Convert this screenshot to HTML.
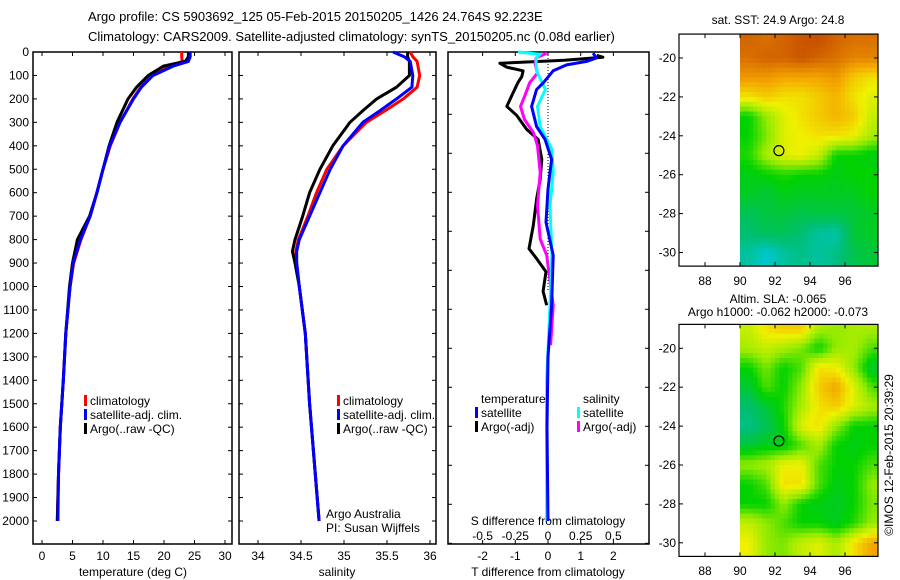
<!DOCTYPE html>
<html><head><meta charset="utf-8"><style>
html,body{margin:0;padding:0;background:#fff}
svg{display:block;font-family:"Liberation Sans",sans-serif}
text{font-size:12px;fill:#000}
</style></head><body>
<svg id="fig" width="900" height="580" viewBox="0 0 900 580" xmlns="http://www.w3.org/2000/svg">
<rect width="900" height="580" fill="#fff"/>
<text x="88" y="21" style="font-size:13px">Argo profile: CS 5903692_125 05-Feb-2015 20150205_1426 24.764S 92.223E</text>
<text x="88" y="41" style="font-size:13px">Climatology: CARS2009. Satellite-adjusted climatology: synTS_20150205.nc (0.08d earlier)</text>
<text x="778" y="24" text-anchor="middle">sat. SST: 24.9 Argo: 24.8</text>
<text x="778" y="303" text-anchor="middle">Altim. SLA: -0.065</text>
<text x="778" y="316" text-anchor="middle">Argo h1000: -0.062 h2000: -0.073</text>
<text transform="translate(893,455) rotate(-90)" text-anchor="middle">©IMOS 12-Feb-2015 20:39:29</text>
<text x="326" y="518">Argo Australia</text>
<text x="326" y="532">PI: Susan Wijffels</text>
<text x="133" y="576" text-anchor="middle">temperature (deg C)</text>
<text x="337" y="576" text-anchor="middle">salinity</text>
<text x="548" y="576" text-anchor="middle">T difference from climatology</text>
<text x="548" y="525" text-anchor="middle">S difference from climatology</text>
</svg>
<script>
// ---- data ----
const depthTicks = [0,100,200,300,400,500,600,700,800,900,1000,1100,1200,1300,1400,1500,1600,1700,1800,1900,2000];
const tempTicks = [0,5,10,15,20,25,30];
const salTicks = [34,34.5,35,35.5,36];
const tdiffTicks = [-2,-1,0,1,2];
const sdiffTickLabels = ["-0.5","-0.25","0","0.25","0.5"];
const sdiffTicks = [-0.5,-0.25,0,0.25,0.5];
const lonTicks = [88,90,92,94,96];
const latTicks = [-20,-22,-24,-26,-28,-30];

const depthT = [0,20,40,60,100,150,200,300,400,500,600,700,800,900,1000,1200,1400,1600,1800,2000];
const tClim = [22.9,22.9,23.0,21,18,16.2,14.9,12.8,11.2,10.0,9.0,7.9,6.4,5.2,4.6,3.9,3.5,3.0,2.7,2.5];
const tSat  = [24.3,24.3,24.0,21.5,18.2,16.3,15.0,12.8,11.1,10.0,9.0,7.9,6.3,5.1,4.6,3.9,3.5,3.0,2.7,2.6];
const tArgo = [24.0,24.0,23.5,19.9,17.4,15.5,14.1,12.3,11.0,10.0,9.0,7.8,5.8,5.0,4.5,3.9,3.5,3.0,2.7,2.5];

const depthS = [0,20,40,100,150,200,250,300,400,500,600,700,800,850,900,1000,1200,1500,2000];
const sClim = [35.77,35.80,35.85,35.88,35.85,35.69,35.48,35.26,34.99,34.80,34.68,34.58,34.47,34.44,34.45,34.48,34.55,34.60,34.71];
const sSat  = [35.57,35.70,35.77,35.80,35.79,35.61,35.42,35.22,34.99,34.84,34.72,34.60,34.48,34.45,34.45,34.48,34.55,34.60,34.71];
const sArgo = [35.74,35.74,35.76,35.76,35.61,35.38,35.22,35.07,34.87,34.72,34.60,34.52,34.43,34.40,34.43,34.48,34.55,34.60,34.71];

const dTsatDepth = [5,25,40,55,80,131,160,232,318,373,458,585,726,867,1080,1300,1600,2000];
const dTsat = [1.38,1.48,1.18,0.57,0.16,-0.14,-0.35,-0.5,-0.35,-0.09,0.11,0,-0.06,0.16,0.11,0,-0.03,0];
const dTargoDepth = [15,22,35,48,65,80,105,131,175,232,270,330,373,458,542,627,740,839,881,937,1021,1080];
const dTargo = [1.49,1.68,0.5,-1.47,-1.26,-0.76,-0.8,-0.92,-1.07,-1.26,-0.96,-0.65,-0.3,-0.19,-0.24,-0.35,-0.45,-0.58,-0.35,-0.06,-0.15,-0.04];
const dSsatDepth = [0,10,25,60,90,160,232,318,415,514,656,867,1080,1400,2000];
const dSsat = [-0.23,-0.06,-0.09,-0.09,-0.08,-0.02,-0.08,-0.06,0.03,0.04,0.015,0.03,0.015,-0.01,-0.01];
const dSargoDepth = [5,25,48,90,131,190,232,288,345,400,514,656,797,867,1080,1250];
const dSargo = [-0.01,-0.09,-0.1,-0.08,-0.14,-0.18,-0.21,-0.18,-0.11,-0.08,-0.06,-0.08,-0.06,-0.01,0.04,0.02];

const mapLats = [-19,-20,-21,-22,-23,-24,-25,-26,-27,-28,-29,-30];
const mapLons = [90,91,92,93,94,95,96,97];
const sstGrid = [
[0.9,0.88,0.9,0.92,0.93,0.9,0.88,0.88],
[0.88,0.9,0.9,0.92,0.9,0.88,0.85,0.85],
[0.82,0.82,0.8,0.8,0.8,0.82,0.75,0.72],
[0.72,0.75,0.72,0.72,0.75,0.78,0.72,0.68],
[0.5,0.6,0.68,0.72,0.75,0.78,0.75,0.65],
[0.5,0.58,0.68,0.7,0.72,0.72,0.7,0.62],
[0.52,0.62,0.68,0.7,0.65,0.5,0.5,0.48],
[0.48,0.5,0.52,0.5,0.5,0.48,0.5,0.5],
[0.47,0.45,0.48,0.47,0.47,0.47,0.47,0.5],
[0.42,0.44,0.45,0.43,0.44,0.44,0.45,0.47],
[0.4,0.42,0.42,0.4,0.36,0.35,0.45,0.47],
[0.36,0.32,0.36,0.38,0.36,0.38,0.43,0.45]];
const slaGrid = [
[0.65,0.72,0.75,0.75,0.62,0.6,0.62,0.62],
[0.62,0.65,0.62,0.58,0.5,0.6,0.62,0.55],
[0.5,0.58,0.5,0.55,0.72,0.7,0.6,0.45],
[0.45,0.55,0.5,0.6,0.75,0.8,0.68,0.55],
[0.4,0.45,0.52,0.62,0.72,0.75,0.68,0.62],
[0.38,0.42,0.5,0.68,0.72,0.6,0.5,0.5],
[0.45,0.48,0.48,0.55,0.62,0.5,0.48,0.5],
[0.6,0.62,0.7,0.7,0.55,0.5,0.5,0.55],
[0.5,0.55,0.72,0.72,0.55,0.48,0.5,0.6],
[0.5,0.5,0.6,0.5,0.48,0.47,0.5,0.58],
[0.65,0.6,0.55,0.5,0.5,0.47,0.52,0.6],
[0.7,0.6,0.58,0.65,0.68,0.62,0.72,0.8]];
const argoLon = 92.223, argoLat = -24.764;

// ---- helpers ----
const NS = "http://www.w3.org/2000/svg";
const svg = document.getElementById('fig');
function el(tag, attrs, parent){ const e=document.createElementNS(NS,tag); for(const k in attrs) e.setAttribute(k,attrs[k]); (parent||svg).appendChild(e); return e; }
function txt(x,y,s,anchor,parent){ const t=el('text',{x:x,y:y,'text-anchor':anchor||'start'},parent); t.textContent=s; return t; }

const TOP=52, BOT=544;
const yD = d => 52 + d*0.2345;
const panels = [
 {name:'temperature', x0:33, x1:232, f:v=>42+v*6.1},
 {name:'salinity', x0:239, x1:436, f:v=>258+(v-34)*86},
 {name:'difference', x0:448, x1:649, f:v=>548+v*32.7}
];
const sx = v => 548 + v/0.25*32.7;

panels.forEach((p,i)=>{
  const g = el('g',{});
  
  
  const r = el('rect',{x:p.x0,y:TOP,width:p.x1-p.x0,height:BOT-TOP,fill:'none',stroke:'#000','stroke-width':1.5},g);
  
  
  if(i<2){
    depthTicks.forEach(d=>{
      el('line',{x1:p.x0,x2:p.x0+4,y1:yD(d),y2:yD(d),stroke:'#000'},g);
      el('line',{x1:p.x1,x2:p.x1-4,y1:yD(d),y2:yD(d),stroke:'#000'},g);
    });
  } else {
    for(let k=0;k<13;k++){ const yy=543.3-k*39; if(yy<TOP) break; el('line',{x1:p.x1,x2:p.x1-4,y1:yy,y2:yy,stroke:'#000'},g); el('line',{x1:p.x0,x2:p.x0+4,y1:yy,y2:yy,stroke:'#000'},g);}
  }
});
const dl = el('g',{});


depthTicks.forEach(d=>{ txt(29,yD(d)+4,String(d),'end',dl); });

function xTicks(p, ticks, labels, ly){
  const g = el('g',{});
  
  
  ticks.forEach((v,k)=>{
    const x=p.f(v);
    el('line',{x1:x,x2:x,y1:BOT,y2:BOT-4,stroke:'#000'},g);
    el('line',{x1:x,x2:x,y1:TOP,y2:TOP+4,stroke:'#000'},g);
    txt(x,ly,labels[k],'middle',g);
  });
}
xTicks(panels[0], tempTicks, tempTicks.map(String), 560);
xTicks(panels[1], salTicks, salTicks.map(String), 560);
xTicks(panels[2], tdiffTicks, tdiffTicks.map(String), 560);
const sdl = el('g',{});


sdiffTicks.forEach((v,k)=>{ txt(sx(v),540,sdiffTickLabels[k],'middle',sdl); });

const zl = el('line',{x1:548,x2:548,y1:TOP,y2:290,stroke:'#000','stroke-dasharray':'1 2'});



function series(depths, vals, fx, color, name){
  const pts = depths.map((d,k)=>fx(vals[k]).toFixed(1)+','+yD(d).toFixed(1)).join(' ');
  const pl = el('polyline',{points:pts,fill:'none',stroke:color,'stroke-width':3,'stroke-linejoin':'round'});
  
  
}
const fT=panels[0].f, fS=panels[1].f, fD=panels[2].f;
series(depthT,tClim,fT,'#ff0000','temperature-climatology-line');
series(depthT,tArgo,fT,'#000000','temperature-argo-line');
series(depthT,tSat,fT,'#0000ff','temperature-satellite-line');
series(depthS,sClim,fS,'#ff0000','salinity-climatology-line');
series(depthS,sArgo,fS,'#000000','salinity-argo-line');
series(depthS,sSat,fS,'#0000ff','salinity-satellite-line');
series(dTargoDepth,dTargo,fD,'#000000','t-diff-argo-line');
series(dSargoDepth,dSargo,sx,'#ff00ff','s-diff-argo-line');
series(dSsatDepth,dSsat,sx,'#00ffff','s-diff-satellite-line');
series(dTsatDepth,dTsat,fD,'#0000ff','t-diff-satellite-line');

function legend(x,y,items,name){
  const g = el('g',{});
  
  
  items.forEach((it,k)=>{
    const yy=y+k*14;
    if(it[1]) el('rect',{x:x,y:yy-10,width:3,height:11,fill:it[1]},g);
    txt(x+6,yy,it[0],'start',g);
  });
}
legend(84,405,[['climatology','#ff0000'],['satellite-adj. clim.','#0000ff'],['Argo(..raw -QC)','#000000']],'temperature-legend');
legend(337,405,[['climatology','#ff0000'],['satellite-adj. clim.','#0000ff'],['Argo(..raw -QC)','#000000']],'salinity-legend');
legend(475,403,[['temperature',null],['satellite','#0000ff'],['Argo(-adj)','#000000']],'t-diff-legend');
legend(577,403,[['salinity',null],['satellite','#00ffff'],['Argo(-adj)','#ff00ff']],'s-diff-legend');

const cstops=[[0.3,[0,200,230]],[0.4,[0,190,110]],[0.5,[0,210,0]],[0.6,[150,235,0]],[0.7,[240,240,0]],[0.8,[245,165,0]],[0.9,[210,100,0]],[1.0,[170,30,0]]];
function cmap(v){
  if(v<=cstops[0][0]) return 'rgb('+cstops[0][1]+')';
  for(let k=1;k<cstops.length;k++){
    if(v<=cstops[k][0]){const a=cstops[k-1],b=cstops[k],t=(v-a[0])/(b[0]-a[0]);
      return 'rgb('+a[1].map((c,j)=>Math.round(c+(b[1][j]-c)*t)).join(',')+')';}
  }
  return 'rgb('+cstops[cstops.length-1][1]+')';
}
function sample(grid, lat, lon){
  // bilinear between cell centres
  let r = (-lat) - 19, c = lon - 90.5;
  r = Math.max(0, Math.min(grid.length-1, r)); c = Math.max(0, Math.min(grid[0].length-1, c));
  const r0=Math.floor(r), c0=Math.floor(c), r1=Math.min(r0+1,grid.length-1), c1=Math.min(c0+1,grid[0].length-1);
  const fr=r-r0, fc=c-c0;
  return grid[r0][c0]*(1-fr)*(1-fc)+grid[r0][c1]*(1-fr)*fc+grid[r1][c0]*fr*(1-fc)+grid[r1][c1]*fr*fc;
}
function drawMap(y20, grid, name, lonLabelY){
  const X0=679,X1=878, ppd=17.5, ppl=19.45;
  const lx = lon => 705+(lon-88)*ppd;
  const ly = lat => y20+(-20-lat)*ppl;
  const top=ly(-18.77), bot=ly(-30.7);
  const g = el('g',{});
  
  
  const cp = el('clipPath',{id:name+'-clip'},g);
  el('rect',{x:X0,y:top,width:X1-X0,height:bot-top},cp);
  const cells = el('g',{'clip-path':'url(#'+name+'-clip)'},g);
  const step=0.25;
  for(let lat=-18.5; lat>-31; lat-=step){
    for(let lon=90; lon<98; lon+=step){
      const v = sample(grid, lat-step/2, lon+step/2);
      const rc = el('rect',{x:lx(lon).toFixed(1),y:ly(lat).toFixed(1),width:(ppd*step+0.6).toFixed(2),height:(ppl*step+0.6).toFixed(2),fill:cmap(v)},cells);
      
      
    }
  }
  const fr = el('rect',{x:X0,y:top,width:X1-X0,height:bot-top,fill:'none',stroke:'#000','stroke-width':1.2},g);
  
  
  lonTicks.forEach(lon=>{ const x=lx(lon); el('line',{x1:x,x2:x,y1:bot,y2:bot-4,stroke:'#000'},g); el('line',{x1:x,x2:x,y1:top,y2:top+4,stroke:'#000'},g); txt(x,lonLabelY,String(lon),'middle',g); });
  latTicks.forEach(lat=>{ const y=ly(lat); el('line',{x1:X0,x2:X0+4,y1:y,y2:y,stroke:'#000'},g); el('line',{x1:X1,x2:X1-4,y1:y,y2:y,stroke:'#000'},g); txt(676,y+4,String(lat),'end',g); });
  const m = el('circle',{cx:lx(argoLon),cy:ly(argoLat),r:5,fill:'none',stroke:'#000','stroke-width':1.2},g);
  
  
}
drawMap(58, sstGrid, 'sst-map', 285);
drawMap(348.3, slaGrid, 'sla-map', 575);
</script>
</body></html>
